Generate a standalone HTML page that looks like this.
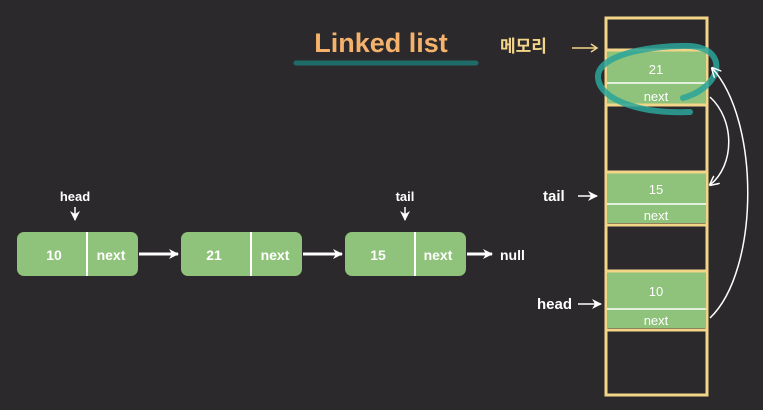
<!DOCTYPE html>
<html><head><meta charset="utf-8"><style>
html,body{margin:0;padding:0;background:#2b292b;}
svg{display:block}
text{font-family:"Liberation Sans","Noto Sans CJK KR",sans-serif;fill:#fff}
</style></head><body>
<svg width="763" height="410" viewBox="0 0 763 410" xmlns="http://www.w3.org/2000/svg">
<defs>
<marker id="ah" markerWidth="10" markerHeight="10" refX="9" refY="5" orient="auto" markerUnits="userSpaceOnUse"><path d="M0,0 L10,5 L0,10 L3,5 Z" fill="#fff"/></marker>
<marker id="ahs" markerWidth="10" markerHeight="10" refX="9" refY="5" orient="auto" markerUnits="userSpaceOnUse"><path d="M0,0 L10,5 L0,10" fill="none" stroke="#fff" stroke-width="1.5"/></marker>
</defs>
<rect width="763" height="410" fill="#2b292b"/>
<text x="381" y="52" font-size="27" font-weight="bold" text-anchor="middle" style="fill:#f4b26c">Linked list</text>
<line x1="296" y1="63" x2="476" y2="63" stroke="#1e6b68" stroke-width="5" stroke-linecap="round"/>

<g font-weight="bold">
<rect x="17" y="232" width="121" height="44" rx="7" fill="#8fc27a"/>
<line x1="87" y1="232" x2="87" y2="276" stroke="#fff" stroke-width="2"/>
<text x="54" y="260" font-size="14" text-anchor="middle">10</text>
<text x="111" y="260" font-size="14" text-anchor="middle">next</text>
<rect x="181" y="232" width="121" height="44" rx="7" fill="#8fc27a"/>
<line x1="251" y1="232" x2="251" y2="276" stroke="#fff" stroke-width="2"/>
<text x="214" y="260" font-size="14" text-anchor="middle">21</text>
<text x="275" y="260" font-size="14" text-anchor="middle">next</text>
<rect x="345" y="232" width="121" height="44" rx="7" fill="#8fc27a"/>
<line x1="415" y1="232" x2="415" y2="276" stroke="#fff" stroke-width="2"/>
<text x="378" y="260" font-size="14" text-anchor="middle">15</text>
<text x="438" y="260" font-size="14" text-anchor="middle">next</text>
<line x1="139" y1="254" x2="178" y2="254" stroke="#fff" stroke-width="3" marker-end="url(#ah)"/>
<line x1="303" y1="254" x2="342" y2="254" stroke="#fff" stroke-width="3" marker-end="url(#ah)"/>
<line x1="467" y1="254" x2="492" y2="254" stroke="#fff" stroke-width="3" marker-end="url(#ah)"/>
<text x="500" y="260" font-size="14">null</text>
<text x="75" y="201" font-size="13" text-anchor="middle">head</text>
<line x1="75" y1="207" x2="75" y2="220" stroke="#fff" stroke-width="1.5" marker-end="url(#ah)"/>
<text x="405" y="201" font-size="13" text-anchor="middle">tail</text>
<line x1="405" y1="207" x2="405" y2="220" stroke="#fff" stroke-width="1.5" marker-end="url(#ah)"/>
</g>

<rect x="606" y="18" width="101" height="377" fill="none" stroke="#f3d58a" stroke-width="3"/>
<rect x="607" y="51" width="99" height="53" fill="#8fc27a"/>
<line x1="605" y1="50" x2="708" y2="50" stroke="#f3d58a" stroke-width="3"/>
<line x1="605" y1="105" x2="708" y2="105" stroke="#f3d58a" stroke-width="3"/>
<line x1="607" y1="83" x2="706" y2="83" stroke="#fff" stroke-width="1.5"/>
<text x="656" y="74" font-size="13" text-anchor="middle">21</text>
<text x="656" y="101" font-size="13" text-anchor="middle">next</text>

<rect x="607" y="173" width="99" height="50" fill="#8fc27a"/>
<line x1="605" y1="172" x2="708" y2="172" stroke="#f3d58a" stroke-width="3"/>
<line x1="605" y1="225" x2="708" y2="225" stroke="#f3d58a" stroke-width="3"/>
<line x1="607" y1="204" x2="706" y2="204" stroke="#fff" stroke-width="1.5"/>
<text x="656" y="194" font-size="13" text-anchor="middle">15</text>
<text x="656" y="220" font-size="13" text-anchor="middle">next</text>

<rect x="607" y="272" width="99" height="56" fill="#8fc27a"/>
<line x1="605" y1="271" x2="708" y2="271" stroke="#f3d58a" stroke-width="3"/>
<line x1="605" y1="330" x2="708" y2="330" stroke="#f3d58a" stroke-width="3"/>
<line x1="607" y1="309" x2="706" y2="309" stroke="#fff" stroke-width="1.5"/>
<text x="656" y="296" font-size="13" text-anchor="middle">10</text>
<text x="656" y="325" font-size="13" text-anchor="middle">next</text>

<path d="M690,112 C640,114 600,100 598,78 C596,55 650,45 690,46 C720,48 722,70 708,84 C700,92 690,96 683,98" fill="none" stroke="#2aa59a" stroke-opacity="0.85" stroke-width="6" stroke-linecap="round"/>

<text x="500" y="52" font-size="17" font-weight="bold" style="fill:#f3d58a">메모리</text>
<line x1="572" y1="48" x2="596" y2="48" stroke="#f3d58a" stroke-width="1.5"/>
<path d="M591,44 L597,48 L591,52" fill="none" stroke="#f3d58a" stroke-width="1.5"/>
<text x="543" y="201" font-size="15" font-weight="bold">tail</text>
<line x1="578" y1="196" x2="597" y2="196" stroke="#fff" stroke-width="1.5" marker-end="url(#ah)"/>
<text x="537" y="309" font-size="15" font-weight="bold">head</text>
<line x1="578" y1="304" x2="601" y2="304" stroke="#fff" stroke-width="1.5" marker-end="url(#ah)"/>

<path d="M710,97 C735,120 735,165 710,185" fill="none" stroke="#fff" stroke-width="1.5" marker-end="url(#ahs)"/>
<path d="M710,318 C760,270 760,120 712,68" fill="none" stroke="#fff" stroke-width="1.5" marker-end="url(#ahs)"/>
</svg>
</body></html>
